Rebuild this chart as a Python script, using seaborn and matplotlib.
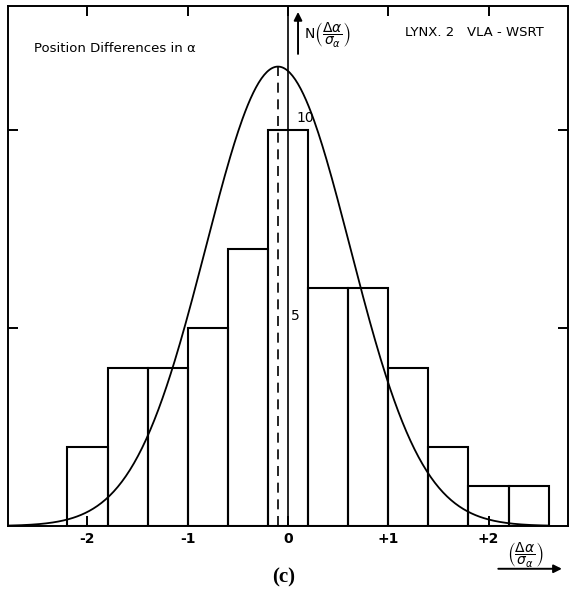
import numpy as np
import pandas as pd
import matplotlib
matplotlib.use('Agg')
import matplotlib.pyplot as plt
import seaborn as sns

# ---- data ----
bin_edges = [-2.2, -1.8, -1.4, -1.0, -0.6, -0.2, 0.2, 0.6, 1.0, 1.4, 1.8, 2.2, 2.6]
counts = [2, 4, 4, 5, 7, 10, 6, 6, 4, 2, 1, 1]
fit_mean = -0.1
fit_sigma = 0.72
fit_peak = 11.6
xtick_values = [-2, -1, 0, 1, 2]
xtick_labels = ['-2', '-1', '0', '+1', '+2']
ytick_values = [5, 10]

sns.set_style('ticks')
plt.rcParams['font.family'] = ['DejaVu Sans']
plt.rcParams['mathtext.fontset'] = 'dejavusans'
plt.rcParams['text.color'] = 'black'
plt.rcParams['xtick.color'] = 'black'
plt.rcParams['ytick.color'] = 'black'
plt.rcParams['xtick.labelcolor'] = 'black'

fig = plt.figure(figsize=(5.69, 5.98), dpi=100)
ax = fig.add_axes([8 / 569, 72 / 598, 560 / 569, 520 / 598])

edges = np.array(bin_edges)
centers = (edges[:-1] + edges[1:]) / 2
df = pd.DataFrame({'x': centers, 'n': counts})
sns.histplot(data=df, x='x', weights='n', bins=bin_edges, fill=False,
             color='black', linewidth=1.5, ax=ax)

xmin, xmax = -2.793, 2.793
ymax = 13.13
xs = np.linspace(xmin, 2.6, 400)
ys = fit_peak * np.exp(-0.5 * ((xs - fit_mean) / fit_sigma) ** 2)
sns.lineplot(x=xs, y=ys, color='black', linewidth=1.3, ax=ax)

# dashed mean line and vertical axis at 0
ax.plot([fit_mean, fit_mean], [0, fit_peak], color='black', lw=1.2,
        linestyle=(0, (6, 4)))
ax.axvline(0, color='black', lw=1.2)

ax.set_xlim(xmin, xmax)
ax.set_ylim(0, ymax)
ax.set_xlabel('')
ax.set_ylabel('')

for s in ax.spines.values():
    s.set_linewidth(1.4)
    s.set_color('black')
    s.set_visible(True)

ax.set_xticks(xtick_values)
ax.set_xticklabels(xtick_labels, fontweight='bold', fontsize=10, color='black')
ax.set_yticks(ytick_values)
ax.tick_params(axis='both', direction='in', length=7, width=1.4,
               top=True, right=True, labelleft=False, color='black', pad=3)
ax.tick_params(axis='x', pad=4)

# in-plot labels on the vertical axis
ax.text(0.08, 10.12, '10', fontsize=10, ha='left', va='bottom')
ax.text(0.03, 5.12, '5', fontsize=10, ha='left', va='bottom')

# vertical axis arrow and label
ax.annotate('', xy=(0.1, 13.05), xytext=(0.1, 11.85),
            arrowprops=dict(arrowstyle='-|>', color='black', lw=1.4,
                            mutation_scale=12))
ax.text(0.16, 12.42, r'$\mathrm{N}\left(\dfrac{\Delta\alpha}{\sigma_\alpha}\right)$',
        fontsize=10, ha='left', va='center')

ax.text(-2.53, 12.05, 'Position Differences in α', fontsize=9.5,
        ha='left', va='center')
ax.text(1.86, 12.45, 'LYNX. 2   VLA - WSRT', fontsize=9.5,
        ha='center', va='center')

# x axis label and arrow below the frame
ax.text(2.37, -0.72, r'$\left(\dfrac{\Delta\alpha}{\sigma_\alpha}\right)$',
        fontsize=10, ha='center', va='center', clip_on=False)
ax.annotate('', xy=(2.76, -1.08), xytext=(2.07, -1.08),
            xycoords='data', textcoords='data', annotation_clip=False,
            arrowprops=dict(arrowstyle='-|>', color='black', lw=1.4,
                            mutation_scale=12))

fig.text(284 / 569, 1 - 577 / 598, '(c)', fontsize=15, fontweight='bold',
         family='Liberation Serif', ha='center', va='center')

fig.savefig('out.png', dpi=100)
